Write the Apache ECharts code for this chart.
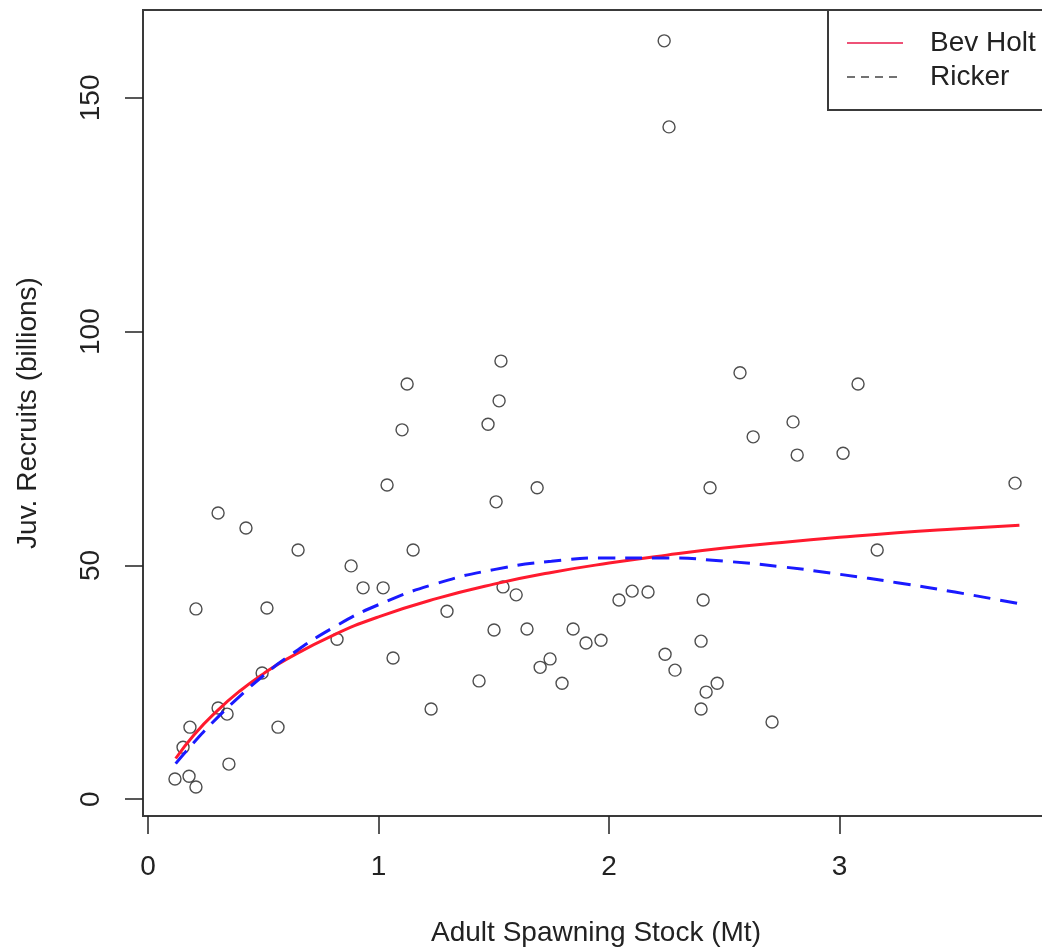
<!DOCTYPE html>
<html>
<head>
<meta charset="utf-8">
<script src="https://cdn.jsdelivr.net/npm/echarts@6/dist/echarts.min.js"></script>
<style>
  html, body { margin: 0; padding: 0; background: #fff; }
  #chart { width: 1042px; height: 950px; }
</style>
</head>
<body>
<div id="chart"></div>
<script>
// Observed stock (Mt) and recruits (billions)
const stockObs = [2.239, 2.260, 3.761, 2.568, 3.080, 1.124, 1.531, 1.523, 1.102, 1.475,
  2.798, 2.625, 2.816, 3.015, 1.037, 1.688, 2.438, 1.510, 0.304, 0.425,
  0.651, 1.150, 3.163, 0.881, 0.933, 1.020, 1.540, 1.597, 0.208, 0.516,
  1.297, 1.501, 1.644, 1.844, 1.900, 1.965, 1.744, 1.701, 1.436, 1.796,
  2.043, 2.100, 2.169, 2.408, 2.399, 2.243, 2.286, 2.469, 2.421, 2.399,
  2.707, 0.820, 1.063, 1.228, 0.495, 0.304, 0.343, 0.564, 0.182, 0.152,
  0.351, 0.117, 0.178, 0.208];
const recruitsObs = [162.2, 143.8, 67.6, 91.2, 88.8, 88.8, 93.7, 85.2, 79.0, 80.2,
  80.7, 77.5, 73.6, 74.0, 67.2, 66.6, 66.6, 63.6, 61.2, 58.0,
  53.3, 53.3, 53.3, 49.9, 45.2, 45.2, 45.4, 43.7, 40.7, 40.9,
  40.2, 36.2, 36.4, 36.4, 33.4, 34.0, 30.0, 28.2, 25.3, 24.8,
  42.6, 44.5, 44.3, 42.6, 33.8, 31.0, 27.6, 24.8, 22.9, 19.3,
  16.5, 34.2, 30.2, 19.3, 27.0, 19.5, 18.2, 15.4, 15.4, 11.1,
  7.5, 4.3, 4.9, 2.6];

// Fitted curves
const curveStock = [0.12, 0.2, 0.3, 0.4, 0.5, 0.6, 0.8, 1.0, 1.25, 1.5, 1.75, 2.0, 2.25, 2.5, 2.75, 3.0, 3.25, 3.5, 3.78];
const bevHolt   = [8.7, 13.8, 18.9, 23.2, 26.8, 29.9, 35.0, 39.0, 42.9, 46.0, 48.5, 50.5, 52.2, 53.7, 54.9, 56.0, 57.0, 57.8, 58.6];
const ricker    = [7.6, 12.2, 17.4, 22.1, 26.4, 30.2, 36.6, 41.6, 46.1, 49.1, 50.9, 51.6, 51.6, 50.9, 49.7, 48.1, 46.3, 44.3, 41.8];

const xTicks = [0, 1, 2, 3];
const yTicks = [0, 50, 100, 150];
const xTitle = 'Adult Spawning Stock (Mt)';
const yTitle = 'Juv. Recruits (billions)';
const seriesNames = ['Bev Holt', 'Ricker'];

const FONT = '"Liberation Sans", Arial, Helvetica, sans-serif';
const TXT = '#222';
const RED = '#ff1a2e';
const BLUE = '#1a1aff';

const chart = echarts.init(document.getElementById('chart'), null, { renderer: 'canvas' });

const pts = stockObs.map((s, i) => [s, recruitsObs[i]]);
const bh = curveStock.map((s, i) => [s, bevHolt[i]]);
const rk = curveStock.map((s, i) => [s, ricker[i]]);

chart.setOption({
  animation: false,
  backgroundColor: '#fff',
  grid: {
    left: 143, top: 10, right: -12, bottom: 134,
    containLabel: false, outerBoundsMode: 'none',
    show: true, borderColor: '#3a3a3a', borderWidth: 2, backgroundColor: 'transparent'
  },
  xAxis: {
    type: 'value', min: -0.0217, max: 3.93,
    axisLine: { show: false, onZero: false },
    splitLine: { show: false },
    axisTick: { show: true, customValues: xTicks, length: 18, inside: false, lineStyle: { color: TXT, width: 1.5 } },
    axisLabel: { customValues: xTicks, fontSize: 28, fontFamily: FONT, color: TXT, margin: 37 }
  },
  yAxis: {
    type: 'value', min: -3.6, max: 168.8,
    axisLine: { show: false, onZero: false },
    splitLine: { show: false },
    axisTick: { show: true, customValues: yTicks, length: 18, inside: false, lineStyle: { color: TXT, width: 1.5 } },
    axisLabel: { customValues: yTicks, fontSize: 28, fontFamily: FONT, color: TXT, margin: 38, rotate: 90 }
  },
  graphic: [
    { type: 'text', x: 596, y: 933, style: { text: xTitle, font: '28px ' + FONT, fill: TXT, textAlign: 'center', textVerticalAlign: 'middle' } },
    { type: 'text', rotation: Math.PI / 2, x: 28, y: 413, style: { text: yTitle, font: '28px ' + FONT, fill: TXT, textAlign: 'center', textVerticalAlign: 'middle' } },
    {
      type: 'group', z: 100,
      children: [
        { type: 'rect', shape: { x: 828, y: 10, width: 240, height: 100 }, style: { fill: '#fff', stroke: '#3a3a3a', lineWidth: 2 } },
        { type: 'line', shape: { x1: 847, y1: 43, x2: 903, y2: 43 }, style: { stroke: '#e8194a', lineWidth: 1.5 } },
        { type: 'line', shape: { x1: 847, y1: 77, x2: 903, y2: 77 }, style: { stroke: '#444', lineWidth: 1.5, lineDash: [8, 6] } },
        { type: 'text', x: 930, y: 43, style: { text: seriesNames[0], font: '28px ' + FONT, fill: TXT, textAlign: 'left', textVerticalAlign: 'middle' } },
        { type: 'text', x: 930, y: 77, style: { text: seriesNames[1], font: '28px ' + FONT, fill: TXT, textAlign: 'left', textVerticalAlign: 'middle' } }
      ]
    }
  ],
  series: [
    {
      name: 'Observed', type: 'scatter', data: pts, symbol: 'circle', symbolSize: 12,
      itemStyle: { color: 'transparent', borderColor: '#222', borderWidth: 1.4 }, z: 2
    },
    {
      name: seriesNames[0], type: 'line', data: bh, smooth: true, symbol: 'none', showSymbol: false,
      lineStyle: { color: RED, width: 3 }, itemStyle: { color: RED }, z: 3
    },
    {
      name: seriesNames[1], type: 'line', data: rk, smooth: true, symbol: 'none', showSymbol: false,
      lineStyle: { color: BLUE, width: 3, type: [17, 10] }, itemStyle: { color: BLUE }, z: 4
    }
  ]
});
</script>
</body>
</html>
